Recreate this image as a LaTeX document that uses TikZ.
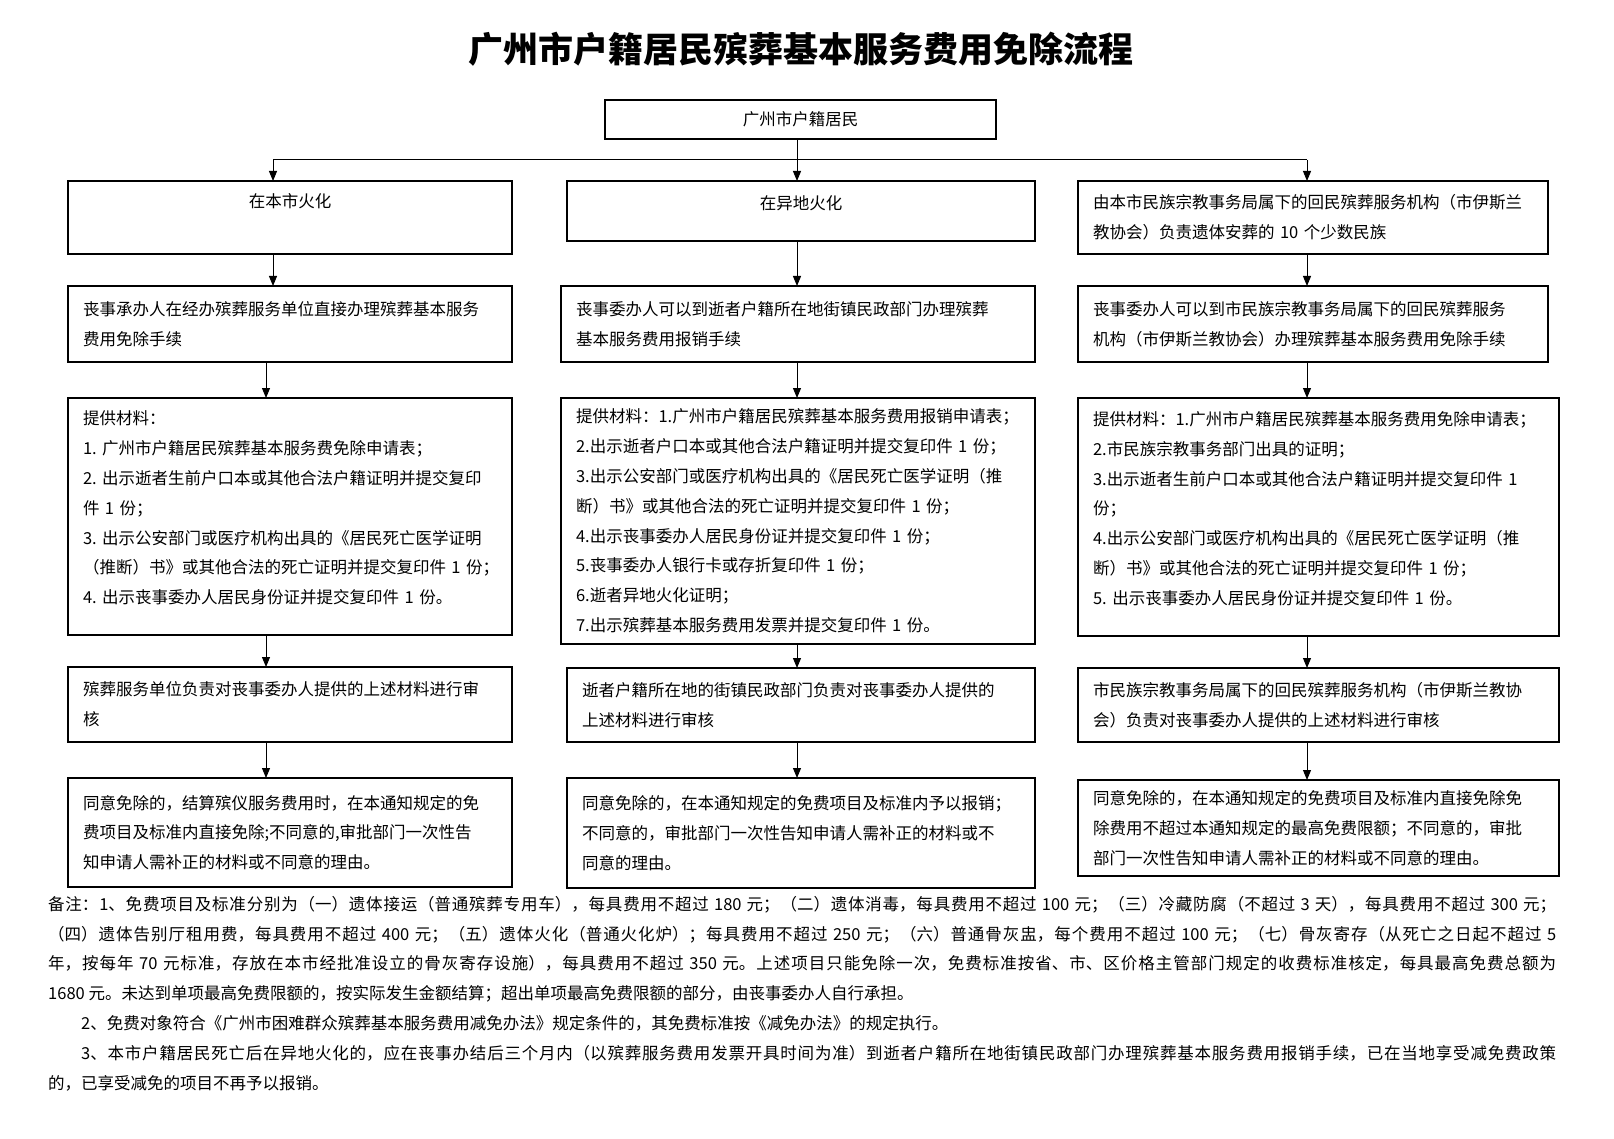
\documentclass[tikz,border=0pt]{standalone}
\usepackage{fontspec}
\setmainfont{Noto Sans CJK SC}
\usepackage{tikz}
\usetikzlibrary{arrows.meta,positioning}
\newcommand{\boxfont}{\fontsize{16.5}{29.8}\selectfont}
\newcommand{\titlefont}{\fontsize{35}{40}\selectfont\bfseries}

\begin{document}
\begin{tikzpicture}[
  x=1pt,y=-1pt,
  box/.style={draw,line width=1.2pt,outer sep=0pt,align=left,inner xsep=15pt,inner ysep=4pt,font=\boxfont},
  colone/.style={box,text width=414pt},
  coltwo/.style={box,text width=438pt},
  coltwowide/.style={box,text width=444pt},
  colthree/.style={box,text width=440pt},
  colthreewide/.style={box,text width=451pt},
  link/.style={line width=1pt},
  arr/.style={-{Triangle[length=10pt,width=8pt]},line width=1pt}
]
\path[use as bounding box,fill=white] (0,0) rectangle (1614,1139);

\node[font=\titlefont] (title) at (801,49) {广州市户籍居民殡葬基本服务费用免除流程};
\node[box,align=center,minimum width=391pt,minimum height=39pt] (top) at (800.5,119.5) {广州市户籍居民};

% left column
\node[colone,anchor=north west,align=center,minimum height=73pt,text depth=33pt] (c1a) at (68,181) {在本市火化};
\node[colone,minimum height=76pt,below=32pt of c1a.south west,anchor=north west] (c1b) {丧事承办人在经办殡葬服务单位直接办理殡葬基本服务\\费用免除手续};
\node[colone,minimum height=237pt,text depth=197pt,below=36pt of c1b.south west,anchor=north west] (c1c) {提供材料：\\1.~广州市户籍居民殡葬基本服务费免除申请表；\\2.~出示逝者生前户口本或其他合法户籍证明并提交复印\\件~1~份；\\3.~出示公安部门或医疗机构出具的《居民死亡医学证明\\（推断）书》或其他合法的死亡证明并提交复印件~1~份；\\4.~出示丧事委办人居民身份证并提交复印件~1~份。};
\node[colone,minimum height=75pt,below=32pt of c1c.south west,anchor=north west] (c1d) {殡葬服务单位负责对丧事委办人提供的上述材料进行审\\核};
\node[colone,minimum height=109pt,below=36pt of c1d.south west,anchor=north west] (c1e) {同意免除的，结算殡仪服务费用时，在本通知规定的免\\费项目及标准内直接免除;不同意的,审批部门一次性告\\知申请人需补正的材料或不同意的理由。};

% middle column
\node[coltwo,anchor=north east,align=center,minimum height=60pt,text depth=16pt] (c2a) at (1035,181) {在异地火化};
\node[coltwowide,minimum height=76pt,below=45pt of c2a.south east,anchor=north east] (c2b) {丧事委办人可以到逝者户籍所在地街镇民政部门办理殡葬\\基本服务费用报销手续};
\node[coltwowide,minimum height=246pt,below=36pt of c2b.south east,anchor=north east] (c2c) {提供材料：1.广州市户籍居民殡葬基本服务费用报销申请表；\\2.出示逝者户口本或其他合法户籍证明并提交复印件~1~份；\\3.出示公安部门或医疗机构出具的《居民死亡医学证明（推\\断）书》或其他合法的死亡证明并提交复印件~1~份；\\4.出示丧事委办人居民身份证并提交复印件~1~份；\\5.丧事委办人银行卡或存折复印件~1~份；\\6.逝者异地火化证明；\\7.出示殡葬基本服务费用发票并提交复印件~1~份。};
\node[coltwo,minimum height=74pt,below=24pt of c2c.south east,anchor=north east] (c2d) {逝者户籍所在地的街镇民政部门负责对丧事委办人提供的\\上述材料进行审核};
\node[coltwo,minimum height=110pt,below=36pt of c2d.south east,anchor=north east] (c2e) {同意免除的，在本通知规定的免费项目及标准内予以报销；\\不同意的，审批部门一次性告知申请人需补正的材料或不\\同意的理由。};

% right column
\node[colthree,anchor=north west,minimum height=73pt] (c3a) at (1078,181) {由本市民族宗教事务局属下的回民殡葬服务机构（市伊斯兰\\教协会）负责遗体安葬的~10~个少数民族};
\node[colthree,minimum height=76pt,below=32pt of c3a.south west,anchor=north west] (c3b) {丧事委办人可以到市民族宗教事务局属下的回民殡葬服务\\机构（市伊斯兰教协会）办理殡葬基本服务费用免除手续};
\node[colthreewide,minimum height=238pt,text depth=197pt,below=36pt of c3b.south west,anchor=north west] (c3c) {提供材料：1.广州市户籍居民殡葬基本服务费用免除申请表；\\2.市民族宗教事务部门出具的证明；\\3.出示逝者生前户口本或其他合法户籍证明并提交复印件~1\\份；\\4.出示公安部门或医疗机构出具的《居民死亡医学证明（推\\断）书》或其他合法的死亡证明并提交复印件~1~份；\\5.~出示丧事委办人居民身份证并提交复印件~1~份。};
\node[colthreewide,minimum height=74pt,below=32pt of c3c.south west,anchor=north west] (c3d) {市民族宗教事务局属下的回民殡葬服务机构（市伊斯兰教协\\会）负责对丧事委办人提供的上述材料进行审核};
\node[colthreewide,minimum height=96pt,below=38pt of c3d.south west,anchor=north west] (c3e) {同意免除的，在本通知规定的免费项目及标准内直接免除免\\除费用不超过本通知规定的最高免费限额；不同意的，审批\\部门一次性告知申请人需补正的材料或不同意的理由。};

% connectors
\coordinate (fork) at (797,160);
\coordinate (f1) at (273,160);
\coordinate (f3) at (1307,160);
\coordinate (g1) at (266,160);
\draw[link] (fork |- top.south) -- (fork);
\draw[link] (f1) -- (f3);
\draw[arr] (f1) -- (f1 |- c1a.north);
\draw[arr] (fork) -- (fork |- c2a.north);
\draw[arr] (f3) -- (f3 |- c3a.north);
\draw[arr] (f1 |- c1a.south) -- (f1 |- c1b.north);
\draw[arr] (g1 |- c1b.south) -- (g1 |- c1c.north);
\draw[arr] (g1 |- c1c.south) -- (g1 |- c1d.north);
\draw[arr] (g1 |- c1d.south) -- (g1 |- c1e.north);
\draw[arr] (fork |- c2a.south) -- (fork |- c2b.north);
\draw[arr] (fork |- c2b.south) -- (fork |- c2c.north);
\draw[arr] (fork |- c2c.south) -- (fork |- c2d.north);
\draw[arr] (fork |- c2d.south) -- (fork |- c2e.north);
\draw[arr] (f3 |- c3a.south) -- (f3 |- c3b.north);
\draw[arr] (f3 |- c3b.south) -- (f3 |- c3c.north);
\draw[arr] (f3 |- c3c.south) -- (f3 |- c3d.north);
\draw[arr] (f3 |- c3d.south) -- (f3 |- c3e.north);

% notes
\node[anchor=north west,inner sep=0pt,font=\boxfont] (notes) at (48,896) {\parbox{1508pt}{\XeTeXlinebreaklocale "zh"\XeTeXlinebreakskip=0pt plus 1pt\relax
备注：1、免费项目及标准分别为（一）遗体接运（普通殡葬专用车），每具费用不超过 180 元；（二）遗体消毒，每具费用不超过 100 元；（三）冷藏防腐（不超过 3 天），每具费用不超过 300 元；\linebreak
（四）遗体告别厅租用费，每具费用不超过 400 元；（五）遗体火化（普通火化炉）；每具费用不超过 250 元；（六）普通骨灰盅，每个费用不超过 100 元；（七）骨灰寄存（从死亡之日起不超过 5\linebreak
年，按每年 70 元标准，存放在本市经批准设立的骨灰寄存设施），每具费用不超过 350 元。上述项目只能免除一次，免费标准按省、市、区价格主管部门规定的收费标准核定，每具最高免费总额为\linebreak
1680 元。未达到单项最高免费限额的，按实际发生金额结算；超出单项最高免费限额的部分，由丧事委办人自行承担。\par
\hspace*{2em}2、免费对象符合《广州市困难群众殡葬基本服务费用减免办法》规定条件的，其免费标准按《减免办法》的规定执行。\par
\hspace*{2em}3、本市户籍居民死亡后在异地火化的，应在丧事办结后三个月内（以殡葬服务费用发票开具时间为准）到逝者户籍所在地街镇民政部门办理殡葬基本服务费用报销手续，已在当地享受减免费政策\linebreak
的，已享受减免的项目不再予以报销。}};
\end{tikzpicture}
\end{document}
